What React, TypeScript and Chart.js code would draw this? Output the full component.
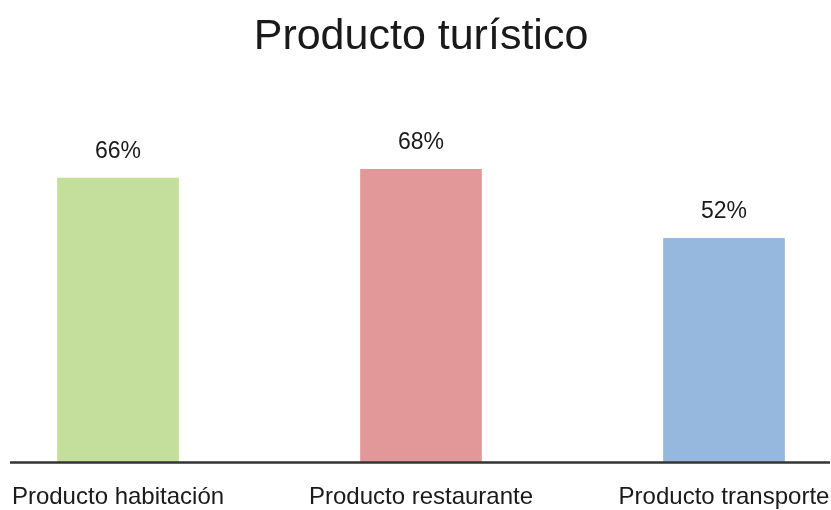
import React, { useEffect, useRef } from "react";
import { Chart, registerables } from "chart.js";

Chart.register(...registerables);

const titleText = "Producto turístico";
const categories = ["Producto habitación", "Producto restaurante", "Producto transporte"];
const values = [66, 68, 52];
const barColors = ["#C4DE9B", "#E29799", "#97B8DE"];

const FONT = "'Liberation Sans', Arial, Helvetica, sans-serif";

const valueLabels = {
  id: "valueLabels",
  afterDatasetsDraw(chart: any) {
    const ctx = chart.ctx;
    const meta = chart.getDatasetMeta(0);
    ctx.save();
    ctx.fillStyle = "#1a1a1a";
    ctx.font = `23px ${FONT}`;
    ctx.textAlign = "center";
    ctx.textBaseline = "alphabetic";
    meta.data.forEach((bar: any, i: number) => {
      ctx.fillText(`${values[i]}%`, bar.x, bar.y - 20);
    });
    ctx.restore();
  },
};

const baseLine = {
  id: "baseLine",
  afterDatasetsDraw(chart: any) {
    const ctx = chart.ctx;
    const y = chart.scales.y.getPixelForValue(0);
    ctx.save();
    ctx.strokeStyle = "#333333";
    ctx.lineWidth = 2.5;
    ctx.beginPath();
    ctx.moveTo(10, y);
    ctx.lineTo(chart.width - 1, y);
    ctx.stroke();
    ctx.restore();
  },
};

export default function App() {
  const ref = useRef<HTMLCanvasElement>(null);
  useEffect(() => {
    if (!ref.current) return;
    const chart = new Chart(ref.current, {
      type: "bar",
      data: {
        labels: categories,
        datasets: [
          {
            data: values,
            backgroundColor: barColors,
            borderWidth: 0,
            barThickness: 121,
            clip: false as any,
          },
        ],
      },
      options: {
        animation: false,
        responsive: true,
        maintainAspectRatio: false,
        layout: { padding: { left: 118, right: 107, top: 0, bottom: 0 } },
        plugins: {
          legend: { display: false },
          tooltip: { enabled: false },
          title: {
            display: true,
            text: titleText,
            color: "#1a1a1a",
            font: { family: FONT, size: 43, weight: "normal" as any, lineHeight: 1.2 },
            padding: { top: 11, bottom: 5 },
          },
        },
        scales: {
          x: {
            offset: false,
            grid: { display: false, drawTicks: false },
            border: { display: false },
            ticks: {
              color: "#1a1a1a",
              font: { family: FONT, size: 24, lineHeight: 1.2 },
              padding: 20.5,
              maxRotation: 0,
              autoSkip: false,
            },
            afterFit: (scale: any) => {
              scale.paddingLeft = 0;
              scale.paddingRight = 0;
              scale.height = 47.5;
            },
          },
          y: {
            display: false,
            min: 0,
            max: 91.6,
          },
        },
      },
      plugins: [baseLine, valueLabels],
    });
    return () => chart.destroy();
  }, []);
  return (
    <div style={{ position: "fixed", left: 0, top: 0, width: 831, height: 510, background: "#ffffff" }}>
      <canvas ref={ref} />
    </div>
  );
}
